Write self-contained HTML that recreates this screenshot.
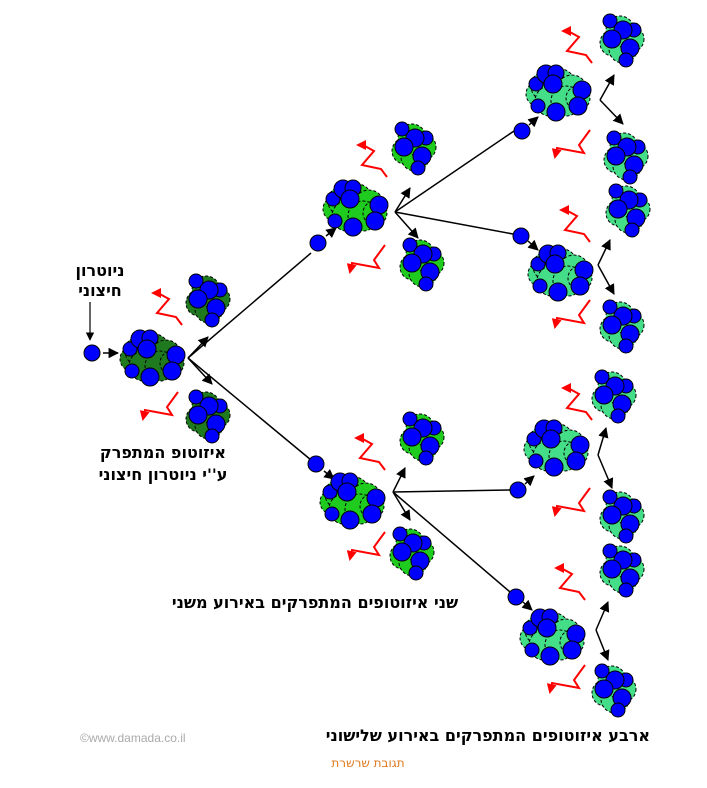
<!DOCTYPE html>
<html><head><meta charset="utf-8"><style>
body{margin:0;background:#fff}
svg{display:block}
text{font-family:"DejaVu Sans","Liberation Sans",sans-serif}
text.c{font-family:"Liberation Sans",sans-serif}
</style></head><body>
<svg width="707" height="788" viewBox="0 0 707 788" xmlns="http://www.w3.org/2000/svg">
<defs>
<marker id="ab" viewBox="0 0 10 10" refX="9" refY="5" markerWidth="7" markerHeight="7" orient="auto"><path d="M0,0 L10,5 L0,10 z" fill="#000"/></marker>
<marker id="ar" viewBox="0 0 10 10" refX="8" refY="5" markerWidth="5" markerHeight="5" orient="auto"><path d="M0,0 L10,5 L0,10 z" fill="#f00"/></marker>
<g id="big">
<g fill="currentColor" stroke="#000" stroke-width="1" stroke-dasharray="3,2">
<circle cx="-20" cy="2" r="12"/><circle cx="-12" cy="-6" r="15"/><circle cx="2" cy="-8" r="15"/><circle cx="14" cy="-2" r="15"/><circle cx="-8" cy="9" r="15"/><circle cx="8" cy="9" r="15"/><circle cx="20" cy="6" r="12"/>
</g>
<g fill="#0000ff" stroke="#000" stroke-width="1">
<circle cx="-22" cy="-8" r="7"/><circle cx="-12" cy="-18" r="9"/><circle cx="-2" cy="-19" r="8"/><circle cx="-5" cy="-8" r="9"/><circle cx="24" cy="-2" r="9"/><circle cx="-20" cy="14" r="7"/><circle cx="-2" cy="20" r="9"/><circle cx="20" cy="14" r="9"/>
</g></g>
<g id="frag">
<g fill="currentColor" stroke="#000" stroke-width="1" stroke-dasharray="3,2">
<circle cx="0" cy="-10" r="14"/><circle cx="-7" cy="3" r="13"/><circle cx="3" cy="9" r="14"/><circle cx="11" cy="-1" r="13"/>
</g>
<g fill="#0000ff" stroke="#000" stroke-width="1">
<circle cx="-10" cy="-19" r="7"/><circle cx="14" cy="-10" r="7"/><circle cx="3" cy="-10" r="9"/><circle cx="-8" cy="-1" r="9"/><circle cx="10" cy="8" r="9"/><circle cx="6" cy="20" r="7"/>
</g></g>
<path id="zu" d="M0,0 L-6,-8 L-25,-12 L-13,-26 L-24,-32 L-29,-32" fill="none" stroke="#f00" stroke-width="2" marker-end="url(#ar)"/>
<path id="zd" d="M0,0 L-11,15 L-6,23 L-33,18 L-35,27" fill="none" stroke="#f00" stroke-width="2" marker-end="url(#ar)"/>
<circle id="n" r="8" fill="#0000ff" stroke="#000" stroke-width="1"/>
</defs>

<text x="100" y="276" font-size="16" font-weight="bold" text-anchor="middle">ניוטרון</text>
<text x="100" y="296" font-size="16" font-weight="bold" text-anchor="middle">חיצוני</text>
<line x1="90" y1="302" x2="90" y2="340" stroke="#000" stroke-width="1.2" marker-end="url(#ab)"/>
<use href="#n" x="92" y="353"/>
<line x1="103" y1="353" x2="118" y2="353" stroke="#000" stroke-width="1.5" marker-end="url(#ab)"/>
<g style="color:#1f7a1f"><use href="#big" x="152" y="357"/><use href="#frag" x="206" y="300"/><use href="#frag" x="206" y="416"/></g>
<use href="#zu" x="182" y="325"/><use href="#zd" x="178" y="392"/>
<line x1="188" y1="358" x2="208" y2="337" stroke="#000" stroke-width="1.5" marker-end="url(#ab)"/>
<line x1="188" y1="358" x2="212" y2="384" stroke="#000" stroke-width="1.5" marker-end="url(#ab)"/>
<line x1="188" y1="358" x2="311" y2="253" stroke="#000" stroke-width="1.5"/>
<line x1="188" y1="358" x2="311" y2="460" stroke="#000" stroke-width="1.5"/>
<text x="163" y="458" font-size="16" font-weight="bold" text-anchor="middle">איזוטופ המתפרק</text>
<text x="163" y="480" font-size="16" font-weight="bold" text-anchor="middle">ע''י ניוטרון חיצוני</text>

<use href="#n" x="318" y="243"/>
<line x1="326" y1="236" x2="336" y2="228" stroke="#000" stroke-width="1.5" marker-end="url(#ab)"/>
<g style="color:#1ecb1e"><use href="#big" x="355" y="207"/><use href="#frag" x="412" y="148"/><use href="#frag" x="420" y="264"/></g>
<use href="#zu" x="387" y="177"/><use href="#zd" x="385" y="245"/>
<line x1="395" y1="212" x2="410" y2="188" stroke="#000" stroke-width="1.5" marker-end="url(#ab)"/>
<line x1="395" y1="212" x2="418" y2="238" stroke="#000" stroke-width="1.5" marker-end="url(#ab)"/>
<line x1="395" y1="212" x2="514" y2="131" stroke="#000" stroke-width="1.5"/>
<line x1="395" y1="212" x2="513" y2="234" stroke="#000" stroke-width="1.5"/>

<use href="#n" x="316" y="464"/>
<line x1="324" y1="471" x2="334" y2="479" stroke="#000" stroke-width="1.5" marker-end="url(#ab)"/>
<g style="color:#1ecb1e"><use href="#big" x="352" y="500"/><use href="#frag" x="420" y="438"/><use href="#frag" x="410" y="553"/></g>
<use href="#zu" x="385" y="470"/><use href="#zd" x="385" y="532"/>
<line x1="393" y1="492" x2="405" y2="468" stroke="#000" stroke-width="1.5" marker-end="url(#ab)"/>
<line x1="393" y1="492" x2="410" y2="520" stroke="#000" stroke-width="1.5" marker-end="url(#ab)"/>
<line x1="393" y1="492" x2="511" y2="490" stroke="#000" stroke-width="1.5"/>
<line x1="393" y1="492" x2="510" y2="592" stroke="#000" stroke-width="1.5"/>
<text x="315" y="608" font-size="16" font-weight="bold" text-anchor="middle">שני איזוטופים המתפרקים באירוע משני</text>

<g style="color:#44dd88">
<use href="#n" x="522" y="131"/><line x1="529" y1="125" x2="538" y2="117" stroke="#000" stroke-width="1.5" marker-end="url(#ab)"/>
<use href="#big" x="558" y="92"/><use href="#frag" x="620" y="40"/><use href="#frag" x="624" y="157"/>
<use href="#zu" x="592" y="63"/><use href="#zd" x="590" y="130"/>
<line x1="600" y1="100" x2="614" y2="75" stroke="#000" stroke-width="1.5" marker-end="url(#ab)"/>
<line x1="600" y1="100" x2="623" y2="124" stroke="#000" stroke-width="1.5" marker-end="url(#ab)"/>

<use href="#n" x="521" y="236"/><line x1="528" y1="241" x2="538" y2="250" stroke="#000" stroke-width="1.5" marker-end="url(#ab)"/>
<use href="#big" x="560" y="272"/><use href="#frag" x="626" y="210"/><use href="#frag" x="620" y="326"/>
<use href="#zu" x="590" y="242"/><use href="#zd" x="590" y="300"/>
<line x1="598" y1="265" x2="610" y2="240" stroke="#000" stroke-width="1.5" marker-end="url(#ab)"/>
<line x1="598" y1="265" x2="614" y2="294" stroke="#000" stroke-width="1.5" marker-end="url(#ab)"/>

<use href="#n" x="518" y="490"/><line x1="525" y1="484" x2="534" y2="476" stroke="#000" stroke-width="1.5" marker-end="url(#ab)"/>
<use href="#big" x="556" y="447"/><use href="#frag" x="612" y="396"/><use href="#frag" x="620" y="516"/>
<use href="#zu" x="592" y="420"/><use href="#zd" x="590" y="488"/>
<line x1="598" y1="455" x2="606" y2="428" stroke="#000" stroke-width="1.5" marker-end="url(#ab)"/>
<line x1="598" y1="455" x2="612" y2="488" stroke="#000" stroke-width="1.5" marker-end="url(#ab)"/>

<use href="#n" x="516" y="597"/><line x1="523" y1="602" x2="532" y2="610" stroke="#000" stroke-width="1.5" marker-end="url(#ab)"/>
<use href="#big" x="552" y="636"/><use href="#frag" x="620" y="570"/><use href="#frag" x="612" y="690"/>
<use href="#zu" x="585" y="600"/><use href="#zd" x="585" y="665"/>
<line x1="596" y1="630" x2="608" y2="602" stroke="#000" stroke-width="1.5" marker-end="url(#ab)"/>
<line x1="596" y1="630" x2="608" y2="660" stroke="#000" stroke-width="1.5" marker-end="url(#ab)"/>
</g>

<text x="650" y="741" font-size="16" font-weight="bold" text-anchor="end">ארבע איזוטופים המתפרקים באירוע שלישוני</text>
<text class="c" x="80" y="742" font-size="12" fill="#aaa">©www.damada.co.il</text>
<text x="368" y="767" font-size="12" fill="#e07a20" text-anchor="middle">תגובת שרשרת</text>
</svg>
</body></html>
